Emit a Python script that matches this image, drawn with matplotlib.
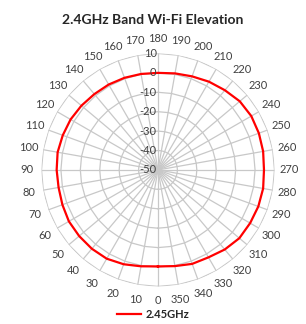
import matplotlib
matplotlib.use('Agg')
import matplotlib.pyplot as plt
import numpy as np

# angle labels (degrees) and measured level (dB)
angles = list(range(0, 360, 10))
gain = [-0.3, 0.4, 1.7, 2.8, 3.0, 3.0, 3.0, 2.4, 2.0, 2.2,
        2.5, 2.2, 2.0, 1.5, 1.0, 0.8, 0.5, 0.2, 0.0, 0.5,
        1.3, 2.5, 3.6, 5.0, 5.5, 5.3, 5.0, 4.6, 5.0, 5.0,
        4.8, 4.7, 3.5, 2.0, 1.5, 0.3]
rings = [-50, -40, -30, -20, -10, 0, 10]
seriesName = '2.45GHz'

plt.rcParams['font.family'] = ['Lato', 'DejaVu Sans']
gridColor = '#C8C8C8'
textColor = '#404040'

fig = plt.figure(figsize=(3.06, 3.24), dpi=100)
ax = fig.add_axes([0.1356, 0.1160, 0.7614, 0.719], projection='polar')
ax.set_theta_zero_location('S')
ax.set_theta_direction(-1)
ax.set_ylim(rings[0], rings[-1])

theta = np.radians(angles)
thetaClosed = np.append(theta, theta[0])

# polygon rings and spokes like a radar chart
ax.grid(False)
ax.spines['polar'].set_visible(False)
for lvl in rings[1:]:
    ax.plot(thetaClosed, [lvl] * len(thetaClosed), color=gridColor, lw=0.9, zorder=1)
for t in theta:
    ax.plot([t, t], [rings[0], rings[-1]], color=gridColor, lw=0.9, zorder=1)

# data line
ax.plot(thetaClosed, gain + [gain[0]], color='#FF0000', lw=1.6, zorder=3, label=seriesName)

# angle labels
ax.set_xticks(theta)
ax.set_xticklabels([str(a) for a in angles], fontsize=8, color=textColor)
ax.tick_params(axis='x', pad=0)

# ring labels left of the top spoke
ax.set_yticks([])
for lvl in rings:
    ax.annotate(str(lvl), xy=(np.pi, lvl), xytext=(-1, 0), textcoords='offset points',
                ha='right', va='center', fontsize=8, color=textColor, zorder=4)

fig.text(0.5, 0.937, '2.4GHz Band Wi-Fi Elevation', ha='center', va='center',
         fontsize=10, fontweight='bold', color='#262626')

leg = fig.legend(loc='center', bbox_to_anchor=(0.5, 0.030), frameon=False,
                 handlelength=2.2, fontsize=8, handletextpad=0.4)
for t in leg.get_texts():
    t.set_fontweight('bold')
    t.set_color('#262626')

fig.savefig('out.png', dpi=100)
